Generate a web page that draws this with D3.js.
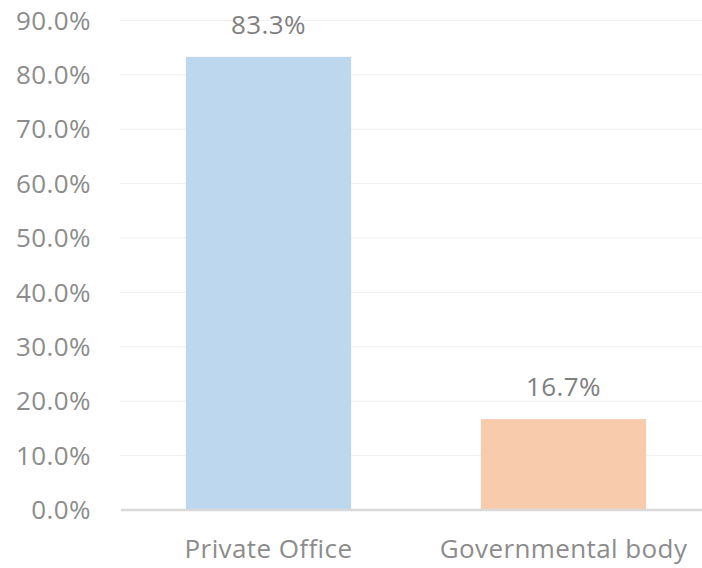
<!DOCTYPE html>
<html><head><meta charset="utf-8">
<script src="https://cdn.jsdelivr.net/npm/d3@7"></script>
<style>body{margin:0;background:#fff}svg{display:block}</style>
</head><body>
<svg id="c" width="702" height="568"></svg>
<script>
const categories = ["Private Office", "Governmental body"];
const values = [83.3, 16.7];
const colors = ["#bdd7ee", "#f8cbad"];
const yTicks = [0, 10, 20, 30, 40, 50, 60, 70, 80, 90];

const svg = d3.select("#c");
const font = "'Open Sans', 'Noto Sans', sans-serif";
const fs = 26;
const x = d3.scaleBand().domain(categories).range([121, 711]).paddingInner(0.44).paddingOuter(0.22);
const y = d3.scaleLinear().domain([0, 90]).range([510, 20.4]);

svg.append("g").selectAll("line").data(yTicks.slice(1)).join("line")
  .attr("x1", 120).attr("x2", 702).attr("y1", d => y(d)).attr("y2", d => y(d))
  .attr("stroke", "#f0f0f0").attr("stroke-width", 1);

svg.append("g").selectAll("text").data(yTicks).join("text")
  .attr("x", 91).attr("y", d => y(d)).attr("dy", "0.35em").attr("text-anchor", "end")
  .attr("font-family", font).attr("font-size", fs).attr("letter-spacing", 0.4).attr("fill", "#8c8c8c")
  .text(d => d.toFixed(1) + "%");

svg.append("g").selectAll("rect").data(values).join("rect")
  .attr("x", (d, i) => x(categories[i])).attr("width", x.bandwidth())
  .attr("y", d => y(d)).attr("height", d => y(0) - y(d))
  .attr("fill", (d, i) => colors[i]);

svg.append("line").attr("x1", 121).attr("x2", 702).attr("y1", y(0)).attr("y2", y(0))
  .attr("stroke", "#d9d9d9").attr("stroke-width", 2.5);

svg.append("g").selectAll("text").data(values).join("text")
  .attr("x", (d, i) => x(categories[i]) + x.bandwidth() / 2).attr("y", d => y(d) - 32)
  .attr("dy", "0.35em").attr("text-anchor", "middle")
  .attr("font-family", font).attr("font-size", fs).attr("letter-spacing", 0.4).attr("fill", "#7f7f7f")
  .text(d => d.toFixed(1) + "%");

svg.append("g").selectAll("text").data(categories).join("text")
  .attr("x", d => x(d) + x.bandwidth() / 2).attr("y", 549).attr("dy", "0.35em")
  .attr("text-anchor", "middle")
  .attr("font-family", font).attr("font-size", fs).attr("letter-spacing", 0.4).attr("fill", "#8c8c8c")
  .text(d => d);
</script>
</body></html>
